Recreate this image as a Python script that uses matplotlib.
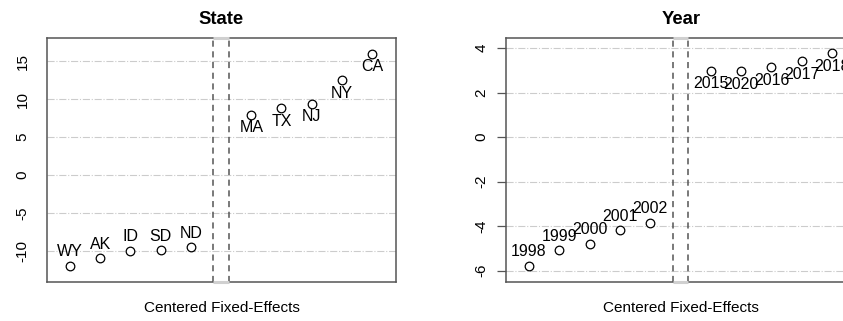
import matplotlib
matplotlib.use("Agg")
import matplotlib.pyplot as plt
import numpy as np

plt.rcParams['font.family'] = ['Liberation Sans', 'DejaVu Sans']

# values (centered fixed effects)
state_names = ["WY", "AK", "ID", "SD", "ND", "MA", "TX", "NJ", "NY", "CA"]
state_fe = [-11.98, -11.0, -10.0, -9.95, -9.55, 7.93, 8.8, 9.38, 12.5, 16.0]
state_ticks = [-10, -5, 0, 5, 10, 15]
state_ylim = (-14.13, 18.07)

year_names = ["1998", "1999", "2000", "2001", "2002",
              "2015", "2020", "2016", "2017", "2018"]
year_fe = [-5.77, -5.08, -4.80, -4.19, -3.85, 2.98, 2.97, 3.15, 3.42, 3.77]
year_ticks = [-6, -4, -2, 0, 2, 4]
year_ylim = (-6.51, 4.46)

W, H = 843, 321
box_col = '#555555'


def fe_panel(ax, names, vals, ticks, ylim, title, tick_len):
    n_low = 5
    x = np.array([i + 1 if i < n_low else i + 2 for i in range(len(vals))])
    ax.set_xlim(0.24, 11.79)
    ax.set_ylim(*ylim)
    for t in ticks:
        ax.axhline(t, color='#cccccc', lw=0.8, ls='-.', zorder=0)
    gap = n_low + 1
    for gx in (gap - 0.25, gap + 0.25):
        ax.axvline(gx, color='#555555', lw=1.1, ls=(0, (4, 3)), zorder=1)
    # light segment of the box over the gap
    for yy in ylim:
        ax.plot([gap - 0.25, gap + 0.25], [yy, yy], color='#d0d0d0', lw=2.2,
                clip_on=False, zorder=5, solid_capstyle='butt')
    ax.plot(x, vals, 'o', mfc='white', mec='black', mew=0.9, ms=6.2, zorder=3)
    for i, (xi, v, nm) in enumerate(zip(x, vals, names)):
        if i < n_low:
            ax.annotate(nm, (xi, v), xytext=(0, 14), textcoords='offset pixels',
                        ha='center', va='center', fontsize=11.5)
        else:
            ax.annotate(nm, (xi, v), xytext=(0, -13), textcoords='offset pixels',
                        ha='center', va='center', fontsize=11.5)
    ax.set_xticks([])
    ax.set_yticks(ticks)
    ax.set_yticklabels([str(t) for t in ticks], rotation=90, va='center',
                       fontsize=11)
    ax.tick_params(axis='y', length=tick_len, width=0.9, color=box_col,
                   pad=(12.5 if tick_len == 0 else 6))
    for s in ax.spines.values():
        s.set_color(box_col)
        s.set_linewidth(1.1)
    ax.set_title(title, fontweight='bold', fontsize=13.3, pad=10)
    ax.set_xlabel("Centered Fixed-Effects", fontsize=11, labelpad=14)


fig = plt.figure(figsize=(W / 100, H / 100), dpi=100)
ax1 = fig.add_axes([47 / W, (H - 282) / H, 349 / W, 244 / H])
ax2 = fig.add_axes([506 / W, (H - 282) / H, 350 / W, 244 / H])

fe_panel(ax1, state_names, state_fe, state_ticks, state_ylim, "State", 0)
fe_panel(ax2, year_names, year_fe, year_ticks, year_ylim, "Year", 6.5)

fig.savefig("out.png", dpi=100)
